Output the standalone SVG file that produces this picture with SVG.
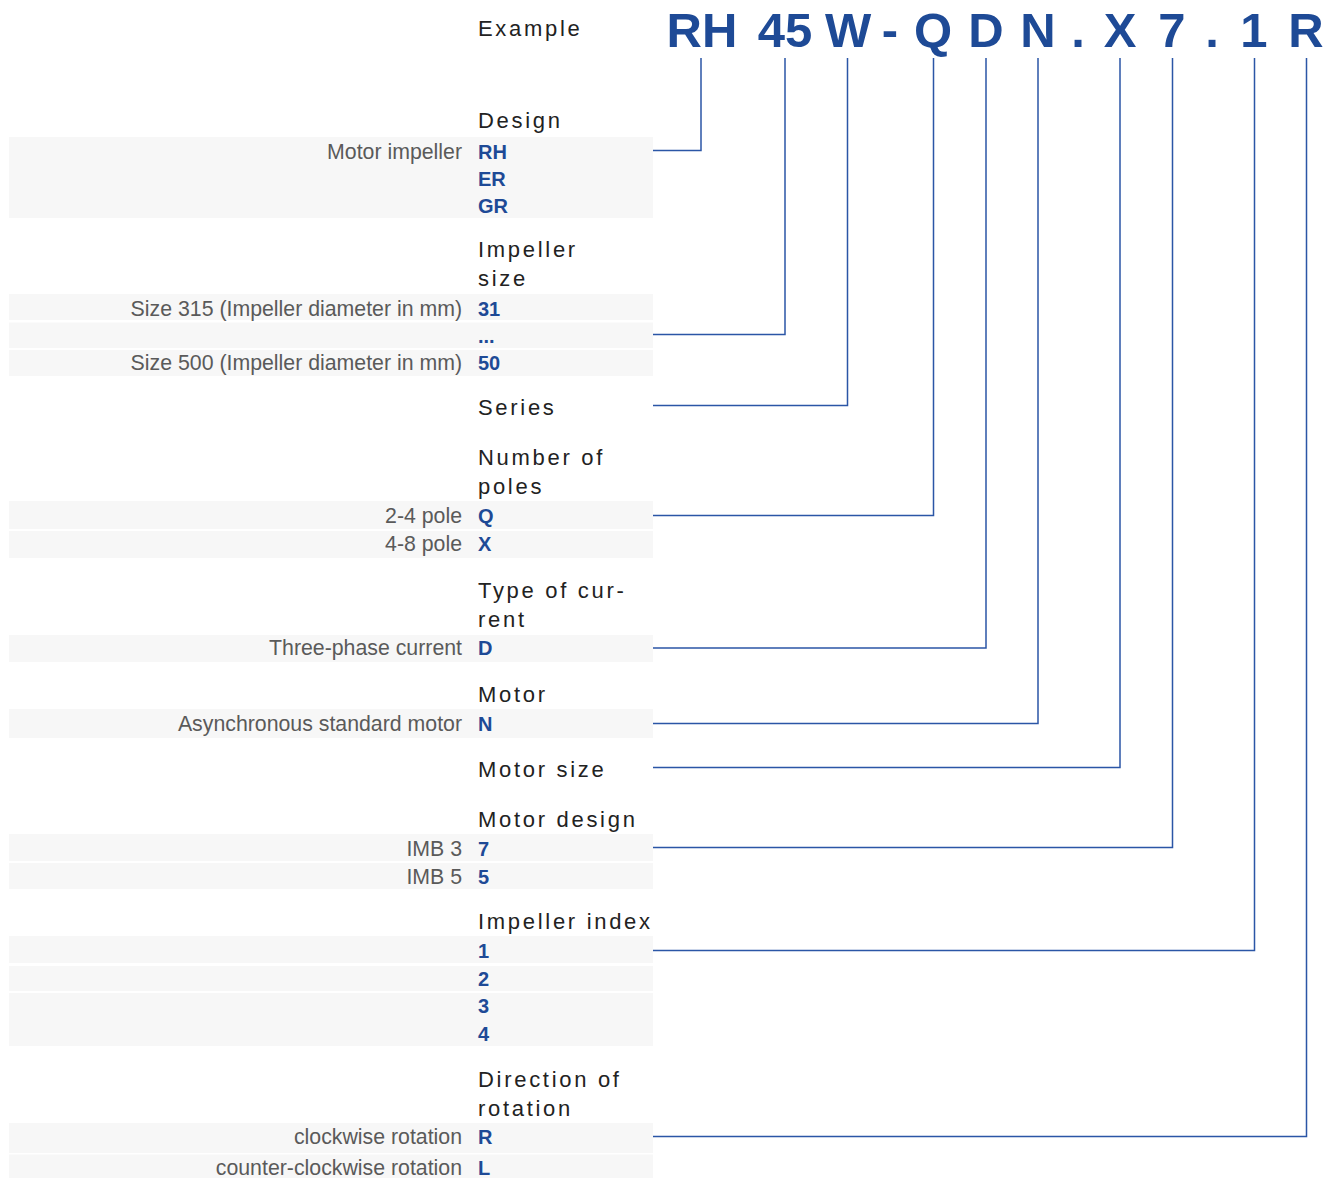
<svg xmlns="http://www.w3.org/2000/svg" width="1335" height="1178" viewBox="0 0 1335 1178">
<style>
.bg{fill:#f7f7f7}
.code{font-family:"Liberation Sans",Arial,sans-serif;font-weight:bold;fill:#1e4a96}
.title{font-size:49px}
.c{font-size:20px}
.h{font-family:"Liberation Sans",Arial,sans-serif;font-size:22px;letter-spacing:2.7px;fill:#222}
.l{font-family:"Liberation Sans",Arial,sans-serif;font-size:21.3px;fill:#5a5a5a;text-anchor:end}
.conn{fill:none;stroke:#2b56a6;stroke-width:1.5}
</style>
<rect width="1335" height="1178" fill="#fff"/>

<g id="example">
<text class="h" x="478" y="36">Example</text>
<g class="code title" text-anchor="middle">
<text x="702" y="47">RH</text>
<text x="785" y="47">45</text>
<text x="848" y="47">W</text>
<text x="890" y="47">-</text>
<text x="933" y="47">Q</text>
<text x="986" y="47">D</text>
<text x="1038" y="47">N</text>
<text x="1078" y="47">.</text>
<text x="1120" y="47">X</text>
<text x="1172" y="47">7</text>
<text x="1212" y="47">.</text>
<text x="1254" y="47">1</text>
<text x="1306" y="47">R</text>
</g>
</g>

<g id="design">
<text class="h" x="478" y="128">Design</text>
<rect class="bg" x="9" y="137" width="644" height="81"/>
<text class="l" x="462" y="159">Motor impeller</text>
<text class="code c" x="478" y="159">RH</text>
<text class="code c" x="478" y="186">ER</text>
<text class="code c" x="478" y="213">GR</text>
</g>

<g id="impeller-size">
<text class="h" x="478" y="257">Impeller</text>
<text class="h" x="478" y="286">size</text>
<rect class="bg" x="9" y="294" width="644" height="26"/>
<rect class="bg" x="9" y="322.5" width="644" height="25.5"/>
<rect class="bg" x="9" y="350" width="644" height="26"/>
<text class="l" x="462" y="316">Size 315 (Impeller diameter in mm)</text>
<text class="code c" x="478" y="316">31</text>
<text class="code c" x="478" y="343">...</text>
<text class="l" x="462" y="370">Size 500 (Impeller diameter in mm)</text>
<text class="code c" x="478" y="370">50</text>
</g>

<g id="series">
<text class="h" x="478" y="415">Series</text>
</g>

<g id="poles">
<text class="h" x="478" y="465">Number of</text>
<text class="h" x="478" y="494">poles</text>
<rect class="bg" x="9" y="501" width="644" height="28"/>
<rect class="bg" x="9" y="531" width="644" height="27"/>
<text class="l" x="462" y="523">2-4 pole</text>
<text class="code c" x="478" y="523">Q</text>
<text class="l" x="462" y="551">4-8 pole</text>
<text class="code c" x="478" y="551">X</text>
</g>

<g id="current">
<text class="h" x="478" y="598">Type of cur-</text>
<text class="h" x="478" y="627">rent</text>
<rect class="bg" x="9" y="635" width="644" height="27"/>
<text class="l" x="462" y="655">Three-phase current</text>
<text class="code c" x="478" y="655">D</text>
</g>

<g id="motor">
<text class="h" x="478" y="702">Motor</text>
<rect class="bg" x="9" y="709" width="644" height="29"/>
<text class="l" x="462" y="731">Asynchronous standard motor</text>
<text class="code c" x="478" y="731">N</text>
</g>

<g id="motor-size">
<text class="h" x="478" y="777">Motor size</text>
</g>

<g id="motor-design">
<text class="h" x="478" y="827">Motor design</text>
<rect class="bg" x="9" y="834" width="644" height="27"/>
<rect class="bg" x="9" y="863" width="644" height="26"/>
<text class="l" x="462" y="856">IMB 3</text>
<text class="code c" x="478" y="856">7</text>
<text class="l" x="462" y="884">IMB 5</text>
<text class="code c" x="478" y="884">5</text>
</g>

<g id="impeller-index">
<text class="h" x="478" y="929">Impeller index</text>
<rect class="bg" x="9" y="936" width="644" height="27"/>
<rect class="bg" x="9" y="966" width="644" height="25"/>
<rect class="bg" x="9" y="993" width="644" height="53"/>
<text class="code c" x="478" y="958">1</text>
<text class="code c" x="478" y="986">2</text>
<text class="code c" x="478" y="1013">3</text>
<text class="code c" x="478" y="1041">4</text>
</g>

<g id="rotation">
<text class="h" x="478" y="1087">Direction of</text>
<text class="h" x="478" y="1116">rotation</text>
<rect class="bg" x="9" y="1123" width="644" height="30"/>
<rect class="bg" x="9" y="1154.5" width="644" height="24"/>
<text class="l" x="462" y="1144">clockwise rotation</text>
<text class="code c" x="478" y="1144">R</text>
<text class="l" x="462" y="1175">counter-clockwise rotation</text>
<text class="code c" x="478" y="1175">L</text>
</g>

<g id="connectors">
<polyline class="conn" points="701,58 701,150.5 653,150.5"/>
<polyline class="conn" points="785,58 785,334.5 653,334.5"/>
<polyline class="conn" points="847.5,58 847.5,405.5 653,405.5"/>
<polyline class="conn" points="933.5,58 933.5,515.5 653,515.5"/>
<polyline class="conn" points="986,58 986,648 653,648"/>
<polyline class="conn" points="1038,58 1038,723.5 653,723.5"/>
<polyline class="conn" points="1120,58 1120,767.5 653,767.5"/>
<polyline class="conn" points="1172.5,58 1172.5,847.5 653,847.5"/>
<polyline class="conn" points="1254.5,58 1254.5,950.5 653,950.5"/>
<polyline class="conn" points="1306.5,58 1306.5,1136.5 653,1136.5"/>
</g>
</svg>
